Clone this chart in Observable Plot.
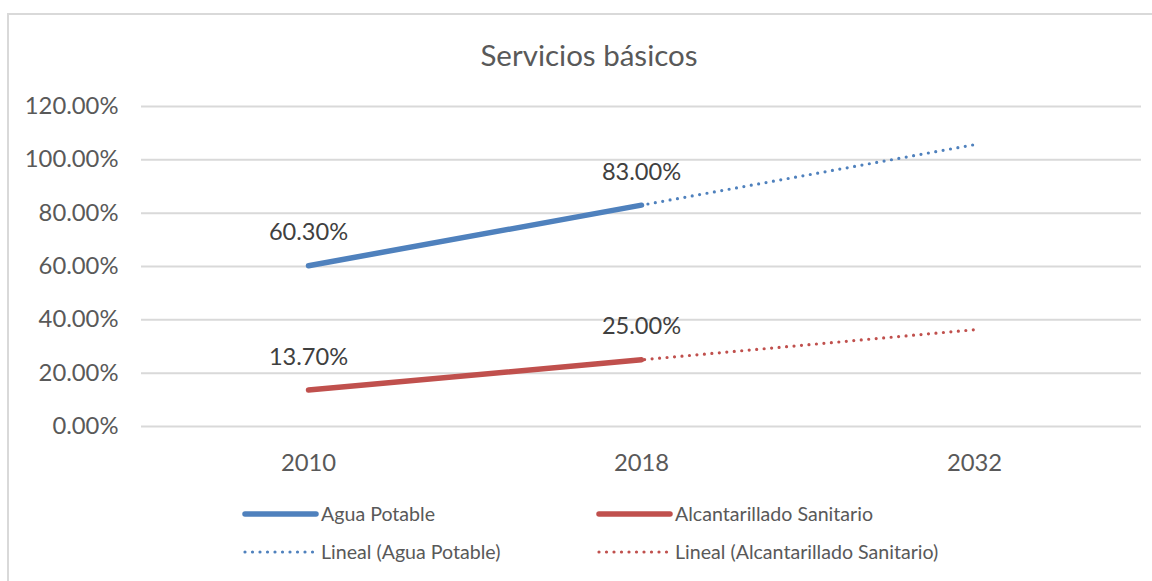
<!DOCTYPE html>
<html><head><meta charset="utf-8">
<script src="https://cdn.jsdelivr.net/npm/d3@7"></script>
<script src="https://cdn.jsdelivr.net/npm/@observablehq/plot@0.6"></script>
<style>
body{margin:0;background:#fff;font-family:Lato,sans-serif;}
#wrap{position:relative;width:1152px;height:581px;overflow:hidden;background:#fff;}
#frame{position:absolute;left:7px;top:13px;width:1200px;height:620px;border-left:2px solid #d9d9d9;border-top:2px solid #d9d9d9;}
#title{position:absolute;left:0;width:1178px;top:38px;line-height:34px;text-align:center;font-size:29.5px;color:#595959;}
#chart{position:absolute;left:0;top:0;}
#legend{position:absolute;left:0;top:490px;}
</style></head>
<body>
<div id="wrap">
  <div id="frame"></div>
  <div id="title">Servicios básicos</div>
  <div id="chart"></div>
  <div id="legend"></div>
</div>
<script>
const years = ["2010", "2018", "2032"];
const seriesNames = ["Agua Potable", "Alcantarillado Sanitario"];
const seriesColors = ["#4f81bd", "#c0504d"];
const aguaValues = [60.3, 83.0];           // 2010, 2018
const alcValues = [13.7, 25.0];            // 2010, 2018
const aguaTrend = [60.3, 83.0, 105.7];     // Lineal (Agua Potable)
const alcTrend = [13.7, 25.0, 36.3];       // Lineal (Alcantarillado Sanitario)
const yTicks = [0, 20, 40, 60, 80, 100, 120];

const obs = [
  ...aguaValues.map((v, i) => ({year: years[i], value: v, series: seriesNames[0]})),
  ...alcValues.map((v, i) => ({year: years[i], value: v, series: seriesNames[1]}))
];
const trend = [
  ...aguaTrend.map((v, i) => ({year: years[i], value: v, series: seriesNames[0]})),
  ...alcTrend.map((v, i) => ({year: years[i], value: v, series: seriesNames[1]}))
];
const fmt = d => d.toFixed(2) + "%";

const chart = Plot.plot({
  width: 1152, height: 480,
  marginLeft: 141, marginRight: 11, marginTop: 106, marginBottom: 54,
  style: {fontFamily: "Lato, sans-serif", fontSize: "23.8px", color: "#595959", background: "transparent"},
  x: {type: "point", domain: years, padding: 0.5, label: null, tickSize: 0, tickPadding: 28},
  y: {domain: [0, 120], ticks: yTicks, label: null, tickSize: 0, tickPadding: 23, tickFormat: fmt},
  color: {domain: seriesNames, range: seriesColors},
  marks: [
    Plot.ruleY(yTicks, {stroke: "#d9d9d9", strokeWidth: 2}),
    Plot.line(trend, {x: "year", y: "value", z: "series", stroke: "series", strokeWidth: 3.2, strokeDasharray: "0 7.5", strokeLinecap: "round"}),
    Plot.line(obs, {x: "year", y: "value", z: "series", stroke: "series", strokeWidth: 5.5, strokeLinecap: "round"}),
    Plot.text(obs, {x: "year", y: "value", text: d => fmt(d.value), dy: -33, fontSize: 23.6, fill: "#404040"})
  ]
});
document.getElementById("chart").appendChild(chart);

// legend
const leg = d3.select("#legend").append("svg").attr("width", 1152).attr("height", 91)
  .style("font-family", "Lato, sans-serif");
const items = [
  {label: "Agua Potable", color: seriesColors[0], dotted: false, x: 243, y: 24},
  {label: "Alcantarillado Sanitario", color: seriesColors[1], dotted: false, x: 597, y: 24},
  {label: "Lineal (Agua Potable)", color: seriesColors[0], dotted: true, x: 243, y: 62},
  {label: "Lineal (Alcantarillado Sanitario)", color: seriesColors[1], dotted: true, x: 597, y: 62}
];
for (const it of items) {
  leg.append("line").attr("x1", it.x + 2).attr("x2", it.x + 73).attr("y1", it.y).attr("y2", it.y)
    .attr("stroke", it.color).attr("stroke-width", it.dotted ? 3.2 : 5.5)
    .attr("stroke-linecap", "round").attr("stroke-dasharray", it.dotted ? "0 7.5" : null);
  leg.append("text").attr("x", it.x + 78).attr("y", it.y).attr("dy", "0.35em")
    .attr("font-size", 19.6).attr("fill", "#595959").text(it.label);
}
</script>
</body></html>
